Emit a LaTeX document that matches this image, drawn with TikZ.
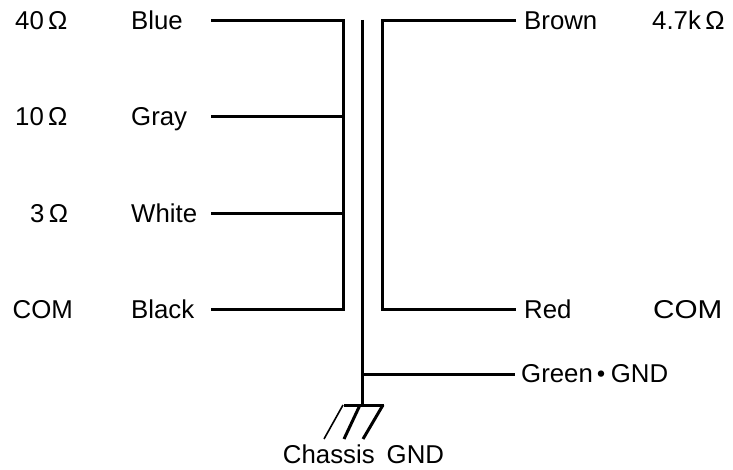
\documentclass[tikz,border=0pt]{standalone}
\usepackage{fontspec}
\setmainfont{Liberation Sans}
\newfontfamily\cjkfont{Noto Sans CJK JP}
\begin{document}
\begin{tikzpicture}[x=1pt,y=-1pt,
 lbl/.style={inner sep=0pt,font=\fontsize{25.8}{28}\selectfont},
 wire/.style={line width=3pt,line cap=butt,line join=miter},
 thinwire/.style={line width=1.6pt,line cap=butt}]
\useasboundingbox (0,0) rectangle (733,470);
\node[lbl,anchor=base west] (a1) at (15,30) {40\,Ω};
\node[lbl,anchor=base west] (a2) at (15,125.5) {10\,Ω};
\node[lbl,anchor=base west] (a3) at (30,222.5) {3\,Ω};
\node[lbl,anchor=base west] (a4) at (12.5,318.5) {COM};
\node[lbl,anchor=base west] (b1) at (131,30) {Blue};
\node[lbl,anchor=base west] (b2) at (131,125.5) {Gray};
\node[lbl,anchor=base west] (b3) at (131,222.5) {White};
\node[lbl,anchor=base west] (b4) at (131,318.5) {Black};
\node[lbl,anchor=base west] (c1) at (524,30) {Brown};
\node[lbl,anchor=base west] (c2) at (524,318.5) {Red};
\node[lbl,anchor=base west] (c3) at (521,382.5) {Green\makebox[18pt][c]{\raisebox{-3pt}{\cjkfont\fontsize{30}{32}\selectfont ・}}GND};
\node[lbl,anchor=base west] (d1) at (652,30) {4.7k\,Ω};
\node[lbl,anchor=base west,xscale=1.15] (d2) at (653,318.5) {COM};
\node[lbl,anchor=base] (g) at (363.5,463.5) {\spaceskip=12pt Chassis GND};
\coordinate (tl) at (211,20.5);
\coordinate (jl) at (343.5,20.5);
\coordinate (bl) at (211,309.5);
\coordinate (kl) at (343.5,309.5);
\coordinate (tr) at (516,20.5);
\coordinate (jr) at (382.5,20.5);
\coordinate (br) at (516,309.5);
\coordinate (kr) at (382.5,309.5);
\coordinate (m0) at (362.5,20);
\coordinate (m1) at (362.5,405.5);
\coordinate (mg) at (362.5,374.5);
\coordinate (ge) at (515,374.5);
\coordinate (gl) at (344,405.5);
\coordinate (gr) at (383.5,405.5);
\draw[wire] (tl) -- (jl) -- (kl) -- (bl);
\draw[wire] (211,116.5) -- (343.5,116.5);
\draw[wire] (211,213.5) -- (343.5,213.5);
\draw[wire] (m0) -- (m1);
\draw[wire] (mg) -- (ge);
\draw[wire] (tr) -- (jr) -- (kr) -- (br);
\draw[wire] (gl) -- (gr);
\draw[thinwire] (343,405) -- (324,439);
\draw[wire] (360,405) -- (344,439);
\draw[wire] (383,405) -- (363,439);
\end{tikzpicture}
\end{document}
